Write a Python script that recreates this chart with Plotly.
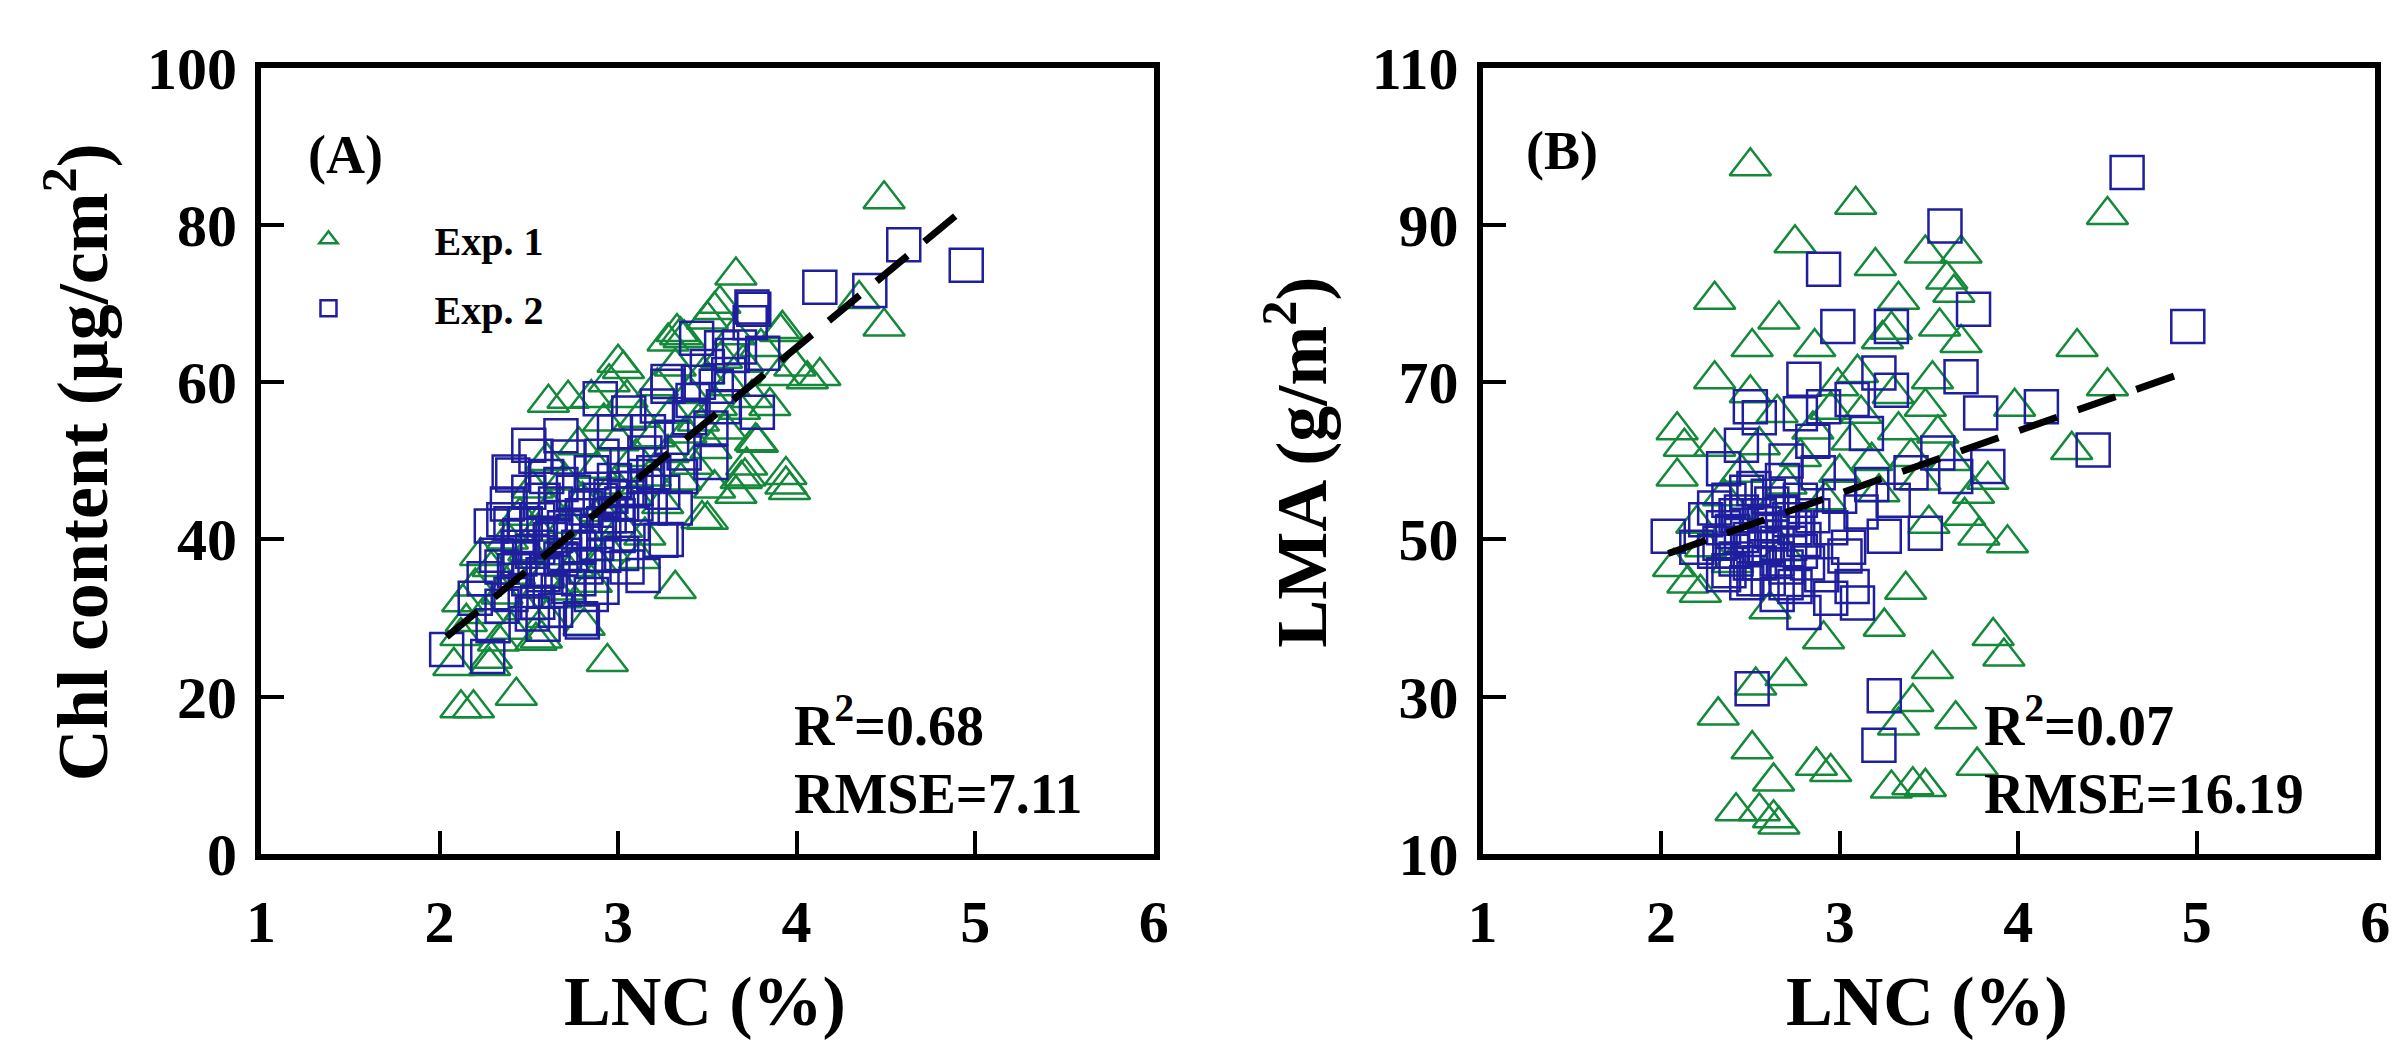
import plotly.graph_objects as go
from plotly.subplots import make_subplots

# ---- panel A: Chl content vs LNC ----
a_exp1_x = [4.49, 4.49, 4.35, 3.66, 4.13, 3.96, 3.78, 3.71, 3.50, 3.35, 3.03, 2.61, 2.72, 3.57, 3.92,
            4.06, 3.32, 2.94, 2.43, 2.12, 2.19, 2.08, 2.29, 2.57, 2.81, 2.13, 2.12, 3.54, 3.33, 3.91,
            3.99, 3.28, 3.37, 3.50, 3.90, 3.77, 3.94, 3.72, 3.94, 3.69, 3.66, 3.47, 3.54, 2.23, 2.28,
            2.54, 2.20, 2.25, 2.30, 2.35, 2.38, 2.42, 2.45, 2.48, 2.50, 2.52, 2.55, 2.58, 2.60, 2.62,
            2.65, 2.68, 2.70, 2.72, 2.75, 2.78, 2.80, 2.82, 2.85, 2.88, 2.90, 2.92, 2.95, 2.98, 3.00,
            3.02, 3.05, 3.08, 3.10, 3.12, 3.15, 3.18, 3.20, 3.22, 3.25, 3.28, 3.30, 3.32, 3.35, 3.38,
            3.40, 3.42, 3.45, 3.48, 3.52, 3.55, 3.58, 3.60, 3.62, 3.65, 3.68, 3.70, 3.75, 3.80, 3.85,
            2.40, 2.60, 2.15, 2.33, 2.70, 3.12, 2.88, 3.00, 2.85, 2.95]
a_exp1_y = [83.3, 67.1, 70.6, 73.6, 60.8, 46.3, 52.3, 48.0, 42.5, 66.0, 61.7, 57.4, 57.9, 70.0, 66.8,
            60.4, 33.7, 24.4, 20.1, 18.5, 18.5, 23.9, 24.8, 27.4, 29.0, 32.0, 27.7, 69.2, 66.4, 66.4,
            62.0, 65.2, 65.6, 68.0, 60.8, 52.5, 48.2, 49.4, 47.0, 47.7, 45.8, 42.6, 46.5, 37.9, 23.9,
            27.1, 34.0, 30.5, 36.5, 33.0, 40.0, 35.5, 43.0, 31.0, 38.5, 46.5, 41.0, 35.0, 50.0, 44.0,
            38.0, 32.5, 47.5, 42.0, 36.5, 52.0, 45.0, 40.0, 34.5, 49.0, 43.5, 55.0, 38.5, 47.0, 52.5,
            41.5, 58.0, 45.5, 50.5, 55.5, 40.5, 48.0, 53.0, 59.5, 44.5, 51.0, 56.0, 62.0, 47.5, 53.5,
            58.5, 49.5, 55.0, 61.0, 51.5, 57.0, 63.0, 54.0, 59.5, 66.0, 56.5, 62.5, 58.0, 64.5, 57.0,
            28.5, 30.0, 29.5, 27.0, 33.5, 37.5, 37.0, 62.5, 58.0, 60.0]

a_exp2_x = [4.95, 4.60, 4.41, 4.13, 3.76, 3.64, 2.90, 3.28, 2.68, 3.78, 2.29, 3.27, 3.14, 2.04, 2.79,
            2.27, 3.75, 3.74, 3.44, 3.58, 3.81, 3.28, 3.42, 3.59, 3.06, 2.98, 3.17, 3.52, 2.54, 2.39,
            3.52, 3.37, 2.91, 3.24, 2.41, 2.58, 3.02, 2.91, 2.80, 2.25, 2.32, 2.35, 2.38, 2.42, 2.45,
            2.48, 2.50, 2.52, 2.55, 2.58, 2.60, 2.62, 2.65, 2.68, 2.70, 2.72, 2.75, 2.78, 2.80, 2.82,
            2.85, 2.88, 2.90, 2.92, 2.95, 2.98, 3.00, 3.02, 3.05, 3.08, 3.10, 3.15, 3.18, 3.20, 3.25,
            3.30, 3.35, 3.40, 3.45, 3.50, 3.55, 3.62, 3.68, 2.40, 2.55, 2.65, 2.85, 2.30, 2.20, 3.32,
            3.05, 2.50, 2.72, 3.22, 2.35, 2.40, 2.45, 2.50, 2.55, 2.60, 2.62, 2.65, 2.70, 2.75, 2.78,
            2.82, 2.88, 2.92, 2.96, 3.00, 3.05, 3.10, 3.15, 2.48, 2.58, 2.68, 2.52, 2.44, 2.36]
a_exp2_y = [74.9, 77.5, 71.7, 72.1, 69.3, 63.4, 57.9, 59.5, 53.2, 56.2, 41.7, 40.0, 35.4, 26.0, 29.9,
            25.1, 69.6, 67.6, 65.6, 64.4, 63.7, 60.1, 57.7, 56.9, 56.1, 53.7, 53.7, 54.2, 50.6, 48.6,
            49.8, 51.0, 50.6, 39.9, 48.2, 29.2, 38.2, 33.9, 29.5, 35.0, 38.0, 31.5, 44.5, 36.0, 40.5,
            33.5, 46.0, 38.5, 42.5, 35.5, 48.0, 40.0, 44.5, 37.5, 41.5, 34.0, 46.0, 39.0, 43.0, 36.5,
            48.5, 41.0, 45.0, 38.0, 43.0, 47.5, 40.5, 44.5, 49.5, 42.0, 46.5, 51.0, 44.0, 48.5, 46.0,
            53.0, 48.0, 55.5, 60.0, 62.0, 59.5, 61.0, 64.5, 42.0, 32.0, 31.0, 33.0, 29.0, 32.5, 44.0,
            36.5, 52.0, 50.5, 57.0, 36.5, 33.0, 37.5, 35.0, 39.0, 36.0, 33.5, 40.5, 38.0, 41.0, 35.0,
            44.0, 39.5, 42.0, 45.5, 43.0, 46.5, 44.5, 48.0, 42.0, 45.0, 47.0, 30.5, 39.0, 42.5]

a_fit_x = [2.04, 4.96]
a_fit_y = [27.6, 82.5]

# ---- panel B: LMA vs LNC ----
b_exp1_x = [2.50, 3.09, 4.50, 2.75, 3.20, 3.48, 3.68, 3.60, 3.64, 3.33, 2.30, 2.66, 3.56, 2.51, 2.86,
            3.68, 4.33, 3.24, 3.29, 2.30, 2.50, 3.52, 3.98, 4.50, 4.30, 2.09, 2.13, 2.30, 2.09, 3.07,
            3.33, 3.48, 3.83, 3.75, 3.94, 2.65, 2.99, 3.10, 2.07, 2.15, 2.22, 2.61, 3.37, 3.25, 2.91,
            3.86, 3.92, 3.52, 2.70, 2.53, 3.41, 3.65, 2.32, 3.33, 2.51, 3.77, 2.87, 2.95, 2.63, 3.29,
            3.41, 3.48, 2.42, 2.55, 2.63, 2.66, 2.20, 2.35, 2.45, 2.55, 2.60, 2.70, 2.78, 2.85, 2.92,
            3.00, 3.12, 3.18, 3.22, 3.40, 3.45, 3.55, 3.62, 3.70, 3.78, 3.50, 2.40, 2.68, 2.25, 3.30,
            2.95]
b_exp1_y = [97.5, 92.6, 91.3, 87.7, 84.8, 86.4, 86.4, 83.1, 81.4, 80.5, 80.5, 78.0, 77.1, 74.5, 74.5,
            75.0, 74.5, 75.5, 76.7, 70.4, 68.6, 70.4, 66.9, 69.5, 61.4, 63.9, 61.8, 61.8, 58.0, 62.6,
            63.9, 66.9, 57.6, 55.8, 49.5, 66.1, 69.5, 71.2, 46.5, 44.4, 43.2, 41.1, 43.6, 38.9, 37.3,
            37.7, 35.1, 33.5, 32.6, 31.4, 29.3, 27.1, 27.6, 26.3, 23.3, 21.2, 21.2, 20.4, 19.2, 18.3,
            18.7, 18.5, 15.4, 15.4, 14.5, 13.7, 52.0, 55.5, 58.5, 62.0, 53.5, 57.0, 60.5, 64.0, 55.0,
            58.5, 66.0, 60.0, 56.0, 60.5, 57.5, 63.5, 60.0, 53.0, 50.5, 52.0, 47.0, 48.5, 49.0, 68.5,
            66.5]

b_exp2_x = [4.61, 3.59, 2.91, 4.95, 3.75, 2.99, 3.29, 3.68, 3.22, 2.80, 2.50, 4.13, 4.42, 3.83, 3.79,
            3.29, 2.91, 3.07, 2.04, 2.51, 3.25, 3.22, 2.80, 3.10, 3.07, 3.48, 3.25, 3.03, 2.25, 2.30,
            2.35, 2.38, 2.40, 2.42, 2.45, 2.48, 2.50, 2.52, 2.55, 2.58, 2.60, 2.62, 2.65, 2.68, 2.70,
            2.72, 2.75, 2.78, 2.80, 2.82, 2.85, 2.88, 2.90, 2.95, 3.00, 3.05, 3.12, 3.18, 3.30, 3.40,
            3.55, 3.65, 2.45, 2.55, 2.70, 2.85, 3.15, 2.35, 2.65, 2.95, 2.20, 2.78, 2.30, 2.35, 2.40,
            2.45, 2.50, 2.55, 2.58, 2.62, 2.65, 2.68, 2.72, 2.75, 2.42, 2.52, 2.60, 2.70, 2.48, 2.38,
            2.33, 2.78]
b_exp2_y = [96.7, 89.9, 84.4, 77.1, 79.3, 77.1, 77.1, 70.7, 71.2, 70.4, 66.9, 66.9, 61.4, 59.3, 66.1,
            69.0, 66.9, 67.8, 50.4, 31.0, 30.1, 23.8, 40.7, 41.9, 44.0, 50.8, 50.4, 47.9, 52.5, 48.5,
            45.5, 55.0, 51.0, 47.5, 53.5, 44.5, 50.0, 56.5, 47.0, 52.0, 45.0, 54.5, 49.5, 57.5, 46.5,
            52.5, 44.0, 55.0, 50.0, 47.0, 53.0, 58.5, 45.5, 51.5, 55.5, 49.0, 53.5, 57.0, 55.0, 58.5,
            61.0, 58.0, 62.0, 65.5, 60.0, 62.5, 63.5, 59.0, 43.0, 42.5, 49.0, 66.0, 54.0, 51.5, 48.5,
            50.5, 47.0, 53.0, 49.0, 51.0, 47.5, 53.5, 49.5, 51.5, 53.0, 45.0, 55.5, 44.5, 56.0, 46.0,
            49.5, 48.5]

b_fit_x = [2.04, 4.95]
b_fit_y = [48.2, 71.4]

green = '#14893a'
blue = '#1e1e9e'
serif = 'Liberation Serif'

fig = make_subplots(rows=1, cols=2)

panels = [
    (1, a_exp1_x, a_exp1_y, a_exp2_x, a_exp2_y, a_fit_x, a_fit_y),
    (2, b_exp1_x, b_exp1_y, b_exp2_x, b_exp2_y, b_fit_x, b_fit_y),
]
for col, x1, y1, x2, y2, fx, fy in panels:
    first = col == 1
    fig.add_trace(go.Scatter(
        x=x1, y=y1, mode='markers', name='Exp. 1', legendgroup='e1', showlegend=first,
        marker=dict(symbol='triangle-up-open', size=36, color=green, line=dict(width=2.5, color=green))
    ), row=1, col=col)
    fig.add_trace(go.Scatter(
        x=x2, y=y2, mode='markers', name='Exp. 2', legendgroup='e2', showlegend=first,
        marker=dict(symbol='square-open', size=33, color=blue, line=dict(width=2.5, color=blue))
    ), row=1, col=col)
    fig.add_trace(go.Scatter(
        x=fx, y=fy, mode='lines', showlegend=False,
        line=dict(color='black', width=7, dash='40px,22px')
    ), row=1, col=col)

axis_common = dict(
    showgrid=False, zeroline=False, showline=True, linewidth=6, linecolor='black', mirror=True,
    ticks='inside', ticklen=23, tickwidth=4, tickcolor='black', ticklabeloverflow='allow',
    tickfont=dict(family=serif, size=60, color='black', weight='bold'),
)
fig.update_xaxes(axis_common, range=[1, 6], tick0=1, dtick=1, ticklabelstandoff=10)
fig.update_yaxes(axis_common, ticklabelstandoff=6)
fig.update_yaxes(range=[0, 100], tick0=0, dtick=20, row=1, col=1)
fig.update_yaxes(range=[10, 110], tick0=10, dtick=20, row=1, col=2)

W, H = 2403, 1054
fig.update_layout(
    xaxis=dict(domain=[241 / W, 1145 / W]),
    xaxis2=dict(domain=[1478 / W, 2382 / W]),
    yaxis=dict(domain=[1 - 868 / H, 1 - 30 / H]),
    yaxis2=dict(domain=[1 - 868 / H, 1 - 30 / H]),
)

bold = lambda s: dict(family=serif, size=s, color='black', weight='bold')
notes = [
    # axis titles
    dict(text='LNC (%)', x=691 / W, y=1 - 1026 / H, xref='paper', yref='paper', font=bold(70)),
    dict(text='LNC (%)', x=1928 / W, y=1 - 1026 / H, xref='paper', yref='paper', font=bold(70)),
    dict(text='Chl content (μg/cm<sup>2</sup>)', x=55 / W, y=1 - 450 / H, xref='paper', yref='paper',
         textangle=-90, font=bold(72)),
    dict(text='LMA (g/m<sup>2</sup>)', x=1290 / W, y=1 - 450 / H, xref='paper', yref='paper',
         textangle=-90, font=bold(72)),
    # panel labels and stats
    dict(text='(A)', x=0.05, y=0.89, xref='x domain', yref='y domain', xanchor='left', font=bold(54)),
    dict(text='R<sup>2</sup>=0.68', x=0.595, y=0.168, xref='x domain', yref='y domain', xanchor='left', font=bold(56)),
    dict(text='RMSE=7.11', x=0.595, y=0.076, xref='x domain', yref='y domain', xanchor='left', font=bold(56)),
    dict(text='(B)', x=0.046, y=0.894, xref='x2 domain', yref='y2 domain', xanchor='left', font=bold(54)),
    dict(text='R<sup>2</sup>=0.07', x=0.559, y=0.168, xref='x2 domain', yref='y2 domain', xanchor='left', font=bold(56)),
    dict(text='RMSE=16.19', x=0.559, y=0.076, xref='x2 domain', yref='y2 domain', xanchor='left', font=bold(56)),
]
for n in notes:
    n.setdefault('xanchor', 'center')
    fig.add_annotation(showarrow=False, yanchor='middle', **n)

fig.update_layout(
    width=W, height=H,
    margin=dict(l=0, r=0, t=0, b=0),
    paper_bgcolor='white', plot_bgcolor='white',
    legend=dict(
        x=202 / W, y=1 - 178 / H, xanchor='left', yanchor='top',
        font=dict(family=serif, size=40, color='black', weight='bold'),
        itemwidth=202, traceorder='grouped', tracegroupgap=14,
        bgcolor='rgba(0,0,0,0)', borderwidth=0, itemsizing='trace',
    ),
)

fig.write_html('out.html')
